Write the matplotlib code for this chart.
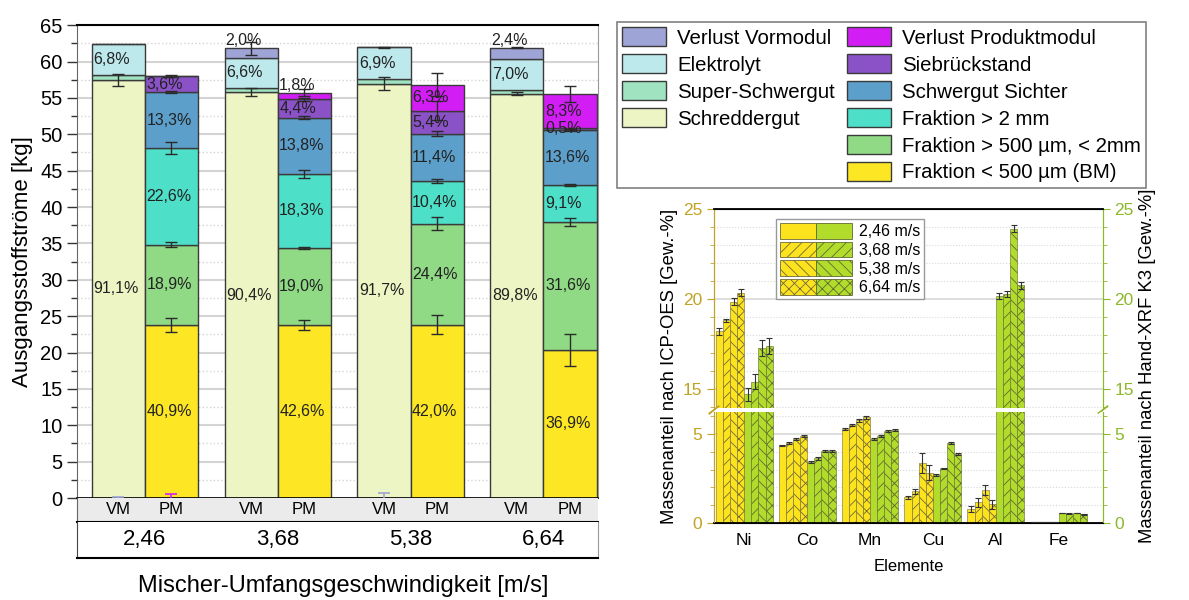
import matplotlib.pyplot as plt
import numpy as np
from matplotlib.patches import Patch
from matplotlib.legend_handler import HandlerTuple
from matplotlib.ticker import MultipleLocator

plt.rcParams['font.family'] = ['Liberation Sans', 'DejaVu Sans']
plt.rcParams['hatch.linewidth'] = 0.6

# ---- linkes Diagramm: Massenströme ----
speeds = ['2,46', '3,68', '5,38', '6,64']
modules = ['VM', 'PM']

vm_names = ['Schreddergut', 'Super-Schwergut', 'Elektrolyt', 'Verlust Vormodul']
vm_colors = ['#eef5c4', '#9fe3c0', '#bde9ec', '#9fa4d6']
vm_vals = [
    [57.5, 55.8, 56.95, 55.55],
    [0.6, 0.6, 0.65, 0.5],
    [4.3, 4.1, 4.35, 4.35],
    [0.0, 1.35, 0.0, 1.5],
]
vm_err = [
    [0.85, 0.6, 0.9, 0.2],
    [0, 0, 0, 0],
    [0, 0, 0.05, 0],
    [0.1, 0.9, 0.7, 0.1],
]
vm_pct = [
    ['91,1%', '90,4%', '91,7%', '89,8%'],
    ['', '', '', ''],
    ['6,8%', '6,6%', '6,9%', '7,0%'],
    ['', '2,0%', '', '2,4%'],
]

pm_names = ['Fraktion < 500 µm (BM)', 'Fraktion > 500 µm, < 2mm', 'Fraktion > 2 mm',
            'Schwergut Sichter', 'Siebrückstand', 'Verlust Produktmodul']
pm_colors = ['#fde725', '#90da86', '#4ddfc8', '#5d9fcb', '#8a52c6', '#d21ef5']
pm_vals = [
    [23.8, 23.8, 23.85, 20.4],
    [11.05, 10.6, 13.85, 17.55],
    [13.25, 10.15, 5.9, 5.1],
    [7.7, 7.75, 6.5, 7.55],
    [2.2, 2.5, 3.15, 0.28],
    [0.0, 0.9, 3.55, 4.6],
]
pm_err = [
    [1.0, 0.7, 1.3, 2.2],
    [0.35, 0.15, 0.9, 0.5],
    [0.8, 0.5, 0.3, 0.1],
    [0.1, 0.15, 0.3, 0.1],
    [0.1, 0.2, 1.3, 0.0],
    [0.6, 0.5, 1.6, 1.1],
]
pm_pct = [
    ['40,9%', '42,6%', '42,0%', '36,9%'],
    ['18,9%', '19,0%', '24,4%', '31,6%'],
    ['22,6%', '18,3%', '10,4%', '9,1%'],
    ['13,3%', '13,8%', '11,4%', '13,6%'],
    ['3,6%', '4,4%', '5,4%', '0,5%'],
    ['', '1,8%', '6,3%', '8,3%'],
]

# ---- rechtes Diagramm: Elementgehalte ----
elements = ['Ni', 'Co', 'Mn', 'Cu', 'Al', 'Fe']
speed_labels = ['2,46 m/s', '3,68 m/s', '5,38 m/s', '6,64 m/s']
hatches = ['', '///', '\\\\\\', 'xxx']
icp = [
    [18.2, 4.38, 5.30, 1.44, 0.78, 0.03],
    [18.8, 4.48, 5.49, 1.79, 1.16, 0.03],
    [19.85, 4.72, 5.77, 3.36, 1.85, 0.03],
    [20.35, 4.89, 5.95, 2.84, 1.06, 0.03],
]
icp_err = [
    [0.2, 0.03, 0.05, 0.1, 0.15, 0.0],
    [0.1, 0.05, 0.05, 0.15, 0.25, 0.0],
    [0.2, 0.05, 0.08, 0.55, 0.3, 0.0],
    [0.2, 0.07, 0.08, 0.4, 0.25, 0.0],
]
xrf = [
    [14.7, 3.45, 4.72, 2.70, 20.15, 0.56],
    [15.4, 3.64, 4.89, 3.08, 20.28, 0.52],
    [17.25, 4.05, 5.17, 4.48, 23.9, 0.56],
    [17.4, 4.05, 5.22, 3.88, 20.75, 0.49],
]
xrf_err = [
    [0.35, 0.05, 0.05, 0.03, 0.15, 0.02],
    [0.4, 0.07, 0.06, 0.04, 0.15, 0.02],
    [0.45, 0.08, 0.06, 0.05, 0.2, 0.02],
    [0.45, 0.08, 0.05, 0.03, 0.2, 0.02],
]

fig = plt.figure(figsize=(11.89, 6), dpi=100)

# ================= linkes Diagramm =================
ax = fig.add_axes([0.0648, 0.17, 0.438, 0.788])
x = np.arange(len(speeds))
bw = 0.4
xpos = [x - bw / 2, x + bw / 2]


def draw_stack(xp, vals, errs, pcts, colors):
    bottom = np.zeros(len(xp))
    vals = np.array(vals)
    last = [max(k for k in range(len(vals)) if vals[k][j] > 0) for j in range(len(xp))]
    for k in range(len(vals)):
        v = vals[k]
        ax.bar(xp, v, bw, bottom=bottom, color=colors[k], edgecolor='#3a3a3a',
               linewidth=1.0, zorder=2)
        top = bottom + v
        for j in range(len(xp)):
            e = errs[k][j]
            if e > 0:
                if v[j] > 0:
                    ax.errorbar(xp[j], top[j], yerr=e, fmt='none', ecolor='#2a2a2a',
                                elinewidth=1.0, capsize=4, capthick=1.0, zorder=4)
                else:
                    ax.errorbar(xp[j], 0, yerr=e, fmt='none', ecolor=colors[k],
                                elinewidth=1.2, capsize=4, capthick=1.2, zorder=4)
            t = pcts[k][j]
            if t:
                if k == last[j] and v[j] < 1.6:
                    ax.text(xp[j] - bw / 2 + 0.005, top[j] + 0.02, t, ha='left',
                            va='bottom', fontsize=11.5, color='#222222', zorder=5)
                else:
                    ax.text(xp[j] - bw / 2 + 0.012, bottom[j] + v[j] / 2, t, ha='left',
                            va='center', fontsize=11.5, color='#222222', zorder=5)
        bottom = top


draw_stack(xpos[0], vm_vals, vm_err, vm_pct, vm_colors)
draw_stack(xpos[1], pm_vals, pm_err, pm_pct, pm_colors)

ax.set_xlim(-0.51, 3.41)
ax.set_ylim(0, 65)
ax.set_xticks([])
ax.yaxis.set_major_locator(MultipleLocator(5))
ax.yaxis.set_minor_locator(MultipleLocator(2.5))
ax.tick_params(axis='y', which='major', direction='out', length=7, width=1,
               labelsize=14.5, color='#333333')
ax.tick_params(axis='y', which='minor', direction='out', length=4, width=1,
               color='#333333')
ax.yaxis.grid(True, which='major', color='#d4d4d4', lw=1.5)
ax.yaxis.grid(True, which='minor', color='#d4d4d4', lw=1, ls=':')
ax.set_axisbelow(True)
ax.spines['top'].set_linewidth(1.5)
ax.spines['left'].set_color('#666666')
ax.spines['right'].set_color('#999999')
ax.spines['bottom'].set_linewidth(1.2)
ax.set_ylabel('Ausgangsstoffströme [kg]', fontsize=16, labelpad=5)

# Kategorienband VM / PM
ax_c = fig.add_axes([0.0648, 0.13, 0.438, 0.04], facecolor='#ebebeb')
ax_c.set_xlim(ax.get_xlim())
ax_c.set_ylim(0, 1)
ax_c.set_xticks([])
ax_c.set_yticks([])
for s in ['top', 'right']:
    ax_c.spines[s].set_visible(False)
ax_c.spines['left'].set_color('#666666')
ax_c.spines['bottom'].set_linewidth(1.5)
for m, xp in zip(modules, xpos):
    for xv in xp:
        ax_c.text(xv, 0.5, m, ha='center', va='center', fontsize=12)

# Geschwindigkeiten
ax_s = fig.add_axes([0.0648, 0.07, 0.438, 0.06])
ax_s.set_xlim(ax.get_xlim())
ax_s.set_ylim(0, 1)
ax_s.set_xticks([])
ax_s.set_yticks([])
ax_s.spines['top'].set_visible(False)
ax_s.spines['right'].set_color('#999999')
ax_s.spines['left'].set_color('#444444')
ax_s.spines['bottom'].set_linewidth(1.5)
for xv, s in zip(x, speeds):
    ax_s.text(xv, 0.5, s, ha='center', va='center', fontsize=16)

fig.text(0.289, 0.024, 'Mischer-Umfangsgeschwindigkeit [m/s]', ha='center',
         va='center', fontsize=17)

# Legende oben rechts
leg_handles = []
leg_labels = []
for n, c in zip(vm_names[::-1], vm_colors[::-1]):
    leg_handles.append(Patch(facecolor=c, edgecolor='#3a3a3a', lw=1))
    leg_labels.append(n)
for _ in range(2):
    leg_handles.append(Patch(visible=False))
    leg_labels.append('')
for n, c in zip(pm_names[::-1], pm_colors[::-1]):
    leg_handles.append(Patch(facecolor=c, edgecolor='#3a3a3a', lw=1))
    leg_labels.append(n)
leg = fig.legend(leg_handles, leg_labels, ncol=2, loc='upper left',
                 bbox_to_anchor=(617 / 1189, 1 - 22 / 600), borderaxespad=0,
                 fontsize=14.7, handlelength=2.15, handleheight=1.08,
                 labelspacing=0.31, columnspacing=0.6, handletextpad=0.55,
                 borderpad=0.25, fancybox=False, framealpha=1, edgecolor='#808080')
leg.get_frame().set_linewidth(1.2)

# ================= rechtes Diagramm =================
c_left = '#bfa322'
c_right = '#8cb82a'
yel = '#fde31e'
grn = '#b2dc2c'

ax_top = fig.add_axes([0.6005, 0.32, 0.327, 0.332])
ax_bot = fig.add_axes([0.6005, 0.1283, 0.327, 0.185])
xe = np.arange(len(elements))
bwe = 0.113

for a in (ax_top, ax_bot):
    for s in range(4):
        xi = xe + (s - 3.5) * bwe
        a.bar(xi, icp[s], bwe, color=yel, edgecolor='#6f6a3a', linewidth=0.4,
              hatch=hatches[s], zorder=2)
        a.errorbar(xi, icp[s], yerr=icp_err[s], fmt='none', ecolor='#333333',
                   elinewidth=0.8, capsize=2.5, capthick=0.8, zorder=3)
        xg = xe + (s + 0.5) * bwe
        a.bar(xg, xrf[s], bwe, color=grn, edgecolor='#5f6a30', linewidth=0.4,
              hatch=hatches[s], zorder=2)
        a.errorbar(xg, xrf[s], yerr=xrf_err[s], fmt='none', ecolor='#333333',
                   elinewidth=0.8, capsize=2.5, capthick=0.8, zorder=3)
    a.set_xlim(-0.48, 5.70)
    a.yaxis.set_major_locator(MultipleLocator(5))
    a.yaxis.set_minor_locator(MultipleLocator(1))
    a.yaxis.grid(True, which='major', color='#d8d8d8', lw=1.2)
    a.yaxis.grid(True, which='minor', color='#d8d8d8', lw=0.8, ls=':')
    a.set_axisbelow(True)
    a.spines['left'].set_color(c_left)
    a.spines['right'].set_color(c_right)
    a.tick_params(axis='y', which='both', colors=c_left, labelsize=12.5)
    a.tick_params(axis='y', which='major', length=5)
    a.tick_params(axis='y', which='minor', length=3)

ax_top.set_ylim(13.94, 25)
ax_bot.set_ylim(0, 6.24)
ax_top.set_xticks([])
ax_top.spines['bottom'].set_visible(False)
ax_top.spines['top'].set_linewidth(1.3)
ax_bot.spines['top'].set_visible(False)
ax_bot.spines['bottom'].set_linewidth(1.3)
ax_bot.set_xticks(xe)
ax_bot.set_xticklabels(elements, fontsize=12.5)
ax_bot.tick_params(axis='x', length=0, pad=7)
ax_bot.set_xlabel('Elemente', fontsize=12, labelpad=8)

for a in (ax_top, ax_bot):
    t = a.twinx()
    t.set_ylim(a.get_ylim())
    t.yaxis.set_major_locator(MultipleLocator(5))
    t.yaxis.set_minor_locator(MultipleLocator(1))
    t.tick_params(axis='y', which='both', colors=c_right, labelsize=12.5)
    t.tick_params(axis='y', which='major', length=5)
    t.tick_params(axis='y', which='minor', length=3)
    t.spines['right'].set_color(c_right)
    t.spines['left'].set_color(c_left)
    t.spines['top'].set_visible(a is ax_top)
    t.spines['bottom'].set_visible(a is ax_bot)

# Achsenbruch-Markierungen
d = 0.02
for xa, col in ((0, c_left), (1, c_right)):
    ax_top.plot([xa - 0.012, xa + 0.012], [-d * 1.5, d * 0.5], color=col, lw=1,
                transform=ax_top.transAxes, clip_on=False)
    ax_bot.plot([xa - 0.012, xa + 0.012], [1 - d * 0.5, 1 + d * 2.5], color=col, lw=1,
                transform=ax_bot.transAxes, clip_on=False)

fig.text(0.5627, 0.39, 'Massenanteil nach ICP-OES [Gew.-%]', rotation=90,
         ha='center', va='center', fontsize=13.3)
fig.text(0.9655, 0.39, 'Massenanteil nach Hand-XRF K3 [Gew.-%]', rotation=90,
         ha='center', va='center', fontsize=13.3)

sp_handles = []
for h in hatches:
    sp_handles.append((Patch(facecolor=yel, edgecolor='#6f6a3a', lw=0.6, hatch=h),
                       Patch(facecolor=grn, edgecolor='#5f6a30', lw=0.6, hatch=h)))
lg2 = ax_top.legend(sp_handles, speed_labels, loc='upper left',
                    bbox_to_anchor=(0.14, 0.99), fontsize=11.5,
                    handler_map={tuple: HandlerTuple(ndivide=None, pad=0)},
                    handlelength=4.5, handleheight=1.15, labelspacing=0.15,
                    handletextpad=0.4, borderpad=0.25, fancybox=False,
                    framealpha=1, edgecolor='#999999')
lg2.set_zorder(10)

fig.savefig('out.png', dpi=100)
